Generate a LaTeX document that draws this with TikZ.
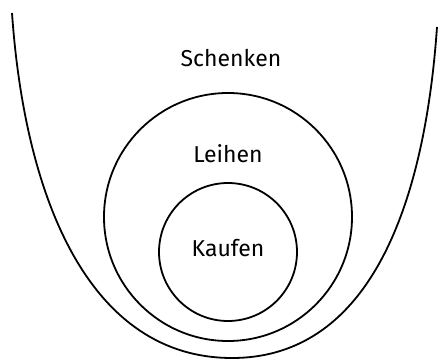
\documentclass[tikz,border=0pt]{standalone}
\usepackage{fontspec}
\setmainfont{Fira Sans}
\usetikzlibrary{positioning}

\begin{document}
\begin{tikzpicture}[x=1pt,y=-1pt,
  ring/.style={draw,circle,line width=1.8pt,inner sep=0pt},
  word/.style={font=\fontsize{23}{26}\selectfont}]
  \useasboundingbox (0,0) rectangle (440,362);

  % outer U
  \draw[line width=1.8pt] (12,13) .. controls (25,200) and (90,358) .. (232,358)
    .. controls (372,358) and (425,200) .. (437,27);

  \node[ring,minimum size=248pt] (leihenkreis) at (228,217) {};
  \node[ring,minimum size=138pt] (kaufenkreis) at (228,252) {};

  \node[word] (schenken) at (231,58) {Schenken};
  \node[word] (leihen) at (228,154) {Leihen};
  \node[word] (kaufen) at (228,248) {Kaufen};
\end{tikzpicture}
\end{document}
